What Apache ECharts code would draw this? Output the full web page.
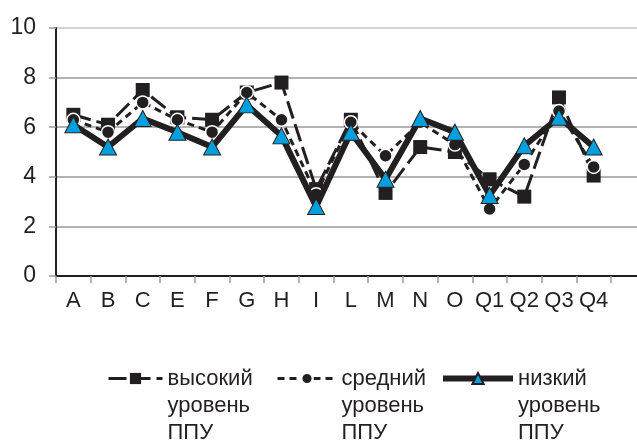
<!DOCTYPE html>
<html>
<head>
<meta charset="utf-8">
<script src="https://cdn.jsdelivr.net/npm/echarts@6/dist/echarts.min.js"></script>
<style>
html,body{margin:0;padding:0;background:#fff;}
#chart{width:637px;height:447px;}
</style>
</head>
<body>
<div id="chart"></div>
<script>
const categories = ['A','B','C','E','F','G','H','I','L','M','N','O','Q1','Q2','Q3','Q4'];
const highLevel = [6.5, 6.1, 7.5, 6.4, 6.3, 7.4, 7.8, 3.5, 6.3, 3.35, 5.2, 5.0, 3.9, 3.2, 7.2, 4.05];
const midLevel  = [6.3, 5.8, 7.0, 6.3, 5.8, 7.4, 6.3, 3.3, 6.2, 4.85, 6.2, 5.3, 2.7, 4.5, 6.65, 4.4];
const lowLevel  = [6.1, 5.2, 6.35, 5.8, 5.2, 6.9, 5.65, 2.8, 5.8, 3.9, 6.35, 5.8, 3.25, 5.25, 6.4, 5.2];
const yTicks = [0, 2, 4, 6, 8, 10];
const seriesNames = ['высокий\nуровень\nППУ', 'средний\nуровень\nППУ', 'низкий\nуровень\nППУ'];

const FONT = "'Liberation Sans Narrow', 'Liberation Sans', Arial, sans-serif";
const INK = '#231f20';
const BLUE = '#00a0de';

const chart = echarts.init(document.getElementById('chart'), null, {renderer: 'canvas'});

function legendFor(i, left, width, lineWidth) {
  const lg = {
    data: [seriesNames[i]],
    left: left,
    top: 311,
    orient: 'horizontal',
    padding: 0,
    itemWidth: width,
    itemHeight: 14,
    selectedMode: false,
    // two empty leading lines keep the first text line level with the icon
    formatter: name => '\n\n' + name,
    textStyle: {fontFamily: FONT, fontSize: 22, color: INK, lineHeight: 27}
  };
  if (lineWidth) lg.lineStyle = {width: lineWidth};
  return lg;
}

const option = {
  backgroundColor: '#fff',
  animation: false,
  grid: [
    {left: 56, right: 26, top: 28, bottom: 171, containLabel: false},
    {left: 56, right: 0, top: 28, bottom: 171, containLabel: false}
  ],
  legend: [
    legendFor(0, 107, 54, 3),
    legendFor(1, 276, 59, 3),
    legendFor(2, 440, 70, 6)
  ],
  xAxis: [
    {
      type: 'category', gridIndex: 0, data: categories, boundaryGap: true,
      axisLine: {lineStyle: {color: INK, width: 2}},
      axisTick: {show: true, interval: 0, length: 7, lineStyle: {color: '#9a9a9a', width: 1.5}},
      axisLabel: {interval: 0, margin: 14, fontFamily: FONT, fontSize: 22, color: INK},
      splitLine: {show: false}
    },
    {
      type: 'value', gridIndex: 1, min: 0, max: 1,
      axisLine: {show: true, lineStyle: {color: INK, width: 2}},
      axisTick: {show: false}, axisLabel: {show: false}, splitLine: {show: false}
    }
  ],
  yAxis: [
    {
      type: 'value', gridIndex: 0, min: 0, max: 10, interval: 2,
      axisLine: {show: true, lineStyle: {color: INK, width: 2}},
      axisTick: {show: true, length: 7, lineStyle: {color: '#9a9a9a', width: 1.5}},
      axisLabel: {margin: 20, fontFamily: FONT, fontSize: 23, color: INK,
        formatter: v => yTicks.includes(v) ? String(v) : ''},
      splitLine: {show: false}
    },
    {
      type: 'value', gridIndex: 1, min: 0, max: 10, interval: 2,
      axisLine: {show: false}, axisTick: {show: false}, axisLabel: {show: false},
      splitLine: {show: true, lineStyle: {color: ['#9a9a9a','#9a9a9a','#9a9a9a','#9a9a9a','#9a9a9a','#c4c4c4'], width: 1.5}}
    }
  ],
  series: [
    {
      name: seriesNames[0], type: 'line', xAxisIndex: 0, yAxisIndex: 0,
      data: highLevel, symbol: 'rect', symbolSize: 14,
      lineStyle: {color: INK, width: 3, type: [18, 6]},
      itemStyle: {color: INK, borderColor: INK, borderWidth: 0},
      z: 3
    },
    {
      name: seriesNames[1], type: 'line', xAxisIndex: 0, yAxisIndex: 0,
      data: midLevel, symbol: 'circle', symbolSize: 13,
      lineStyle: {color: INK, width: 3, type: [7, 5]},
      itemStyle: {color: INK, borderColor: '#fff', borderWidth: 1.5},
      z: 4
    },
    {
      name: seriesNames[2], type: 'line', xAxisIndex: 0, yAxisIndex: 0,
      data: lowLevel, symbol: 'triangle', symbolSize: [17, 16],
      lineStyle: {color: INK, width: 6},
      itemStyle: {color: BLUE, borderColor: INK, borderWidth: 1},
      z: 5
    }
  ]
};
chart.setOption(option);
</script>
</body>
</html>
